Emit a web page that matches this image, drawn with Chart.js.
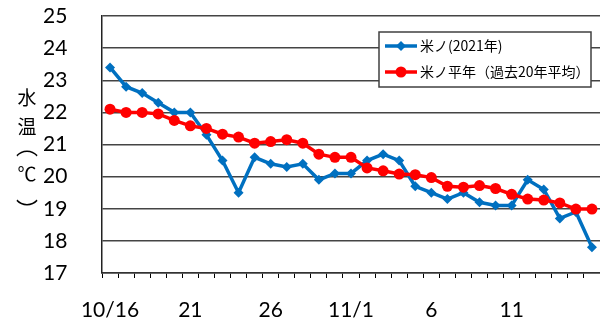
<!DOCTYPE html>
<html>
<head>
<meta charset="utf-8">
<script src="https://cdn.jsdelivr.net/npm/chart.js@4/dist/chart.umd.min.js"></script>
<style>
  html, body { margin: 0; padding: 0; background: #fff; overflow: hidden; }
  #wrap { width: 600px; height: 325px; }
</style>
</head>
<body>
<div id="wrap"><canvas id="c" width="600" height="325"></canvas></div>
<script>
// Observation days (a label is printed every 5th day, the last day unlabelled)
const days = ['10/16','17','18','19','20','21','22','23','24','25','26','27','28','29','30',
              '11/1','2','3','4','5','6','7','8','9','10','11','12','13','14','15','16'];
const labelEvery = 5;

// Water temperature, 2021 (°C)
const temp2021 = [23.4, 22.8, 22.6, 22.3, 22.0, 22.0, 21.3, 20.5, 19.5, 20.6,
                  20.4, 20.3, 20.4, 19.9, 20.1, 20.1, 20.5, 20.7, 20.5, 19.7,
                  19.5, 19.3, 19.5, 19.2, 19.1, 19.1, 19.9, 19.6, 18.7, 18.9, 17.8];

// Normal year: 20-year average (°C)
const tempNormal = [22.1, 22.0, 22.0, 21.95, 21.75, 21.58, 21.5, 21.32, 21.23, 21.04,
                    21.09, 21.15, 21.04, 20.7, 20.6, 20.6, 20.27, 20.18, 20.08, 20.06,
                    19.97, 19.7, 19.67, 19.72, 19.63, 19.45, 19.3, 19.27, 19.18, 18.99, 18.99];

const seriesNames = ['米ノ(2021年)', '米ノ平年（過去20年平均）'];
const yTicks = { min: 17, max: 25, step: 1 };
const yTitleChars = ['水', '温', '︵', '℃', '︶'];

const BLUE = '#0070C0';
const RED = '#FF0000';
const CJK = '"Noto Sans CJK JP", "Noto Sans", sans-serif';
const NUM = 'Lato, "Liberation Sans", sans-serif';

// Vertical axis title, one character per row
const yTitlePlugin = {
  id: 'yTitle',
  afterDraw(chart) {
    const ctx = chart.ctx;
    const rows = [98, 127, 146, 174, 210];
    ctx.save();
    ctx.fillStyle = '#000';
    ctx.textAlign = 'center';
    ctx.textBaseline = 'middle';
    yTitleChars.forEach((ch, i) => {
      ctx.font = (ch === '︵' || ch === '︶' ? '22px ' : '19px ') + CJK;
      ctx.fillText(ch, 27, rows[i]);
    });
    ctx.restore();
  }
};

// Boxed legend inside the plot
const legendPlugin = {
  id: 'boxLegend',
  afterDatasetsDraw(chart) {
    const ctx = chart.ctx;
    const bx = 379, by = 32, bw = 212, bh = 55;
    ctx.save();
    ctx.fillStyle = '#fff';
    ctx.fillRect(bx, by, bw, bh);
    ctx.strokeStyle = '#404040';
    ctx.lineWidth = 1.5;
    ctx.strokeRect(bx, by, bw, bh);
    const rowsY = [46, 72];
    chart.data.datasets.forEach((ds, i) => {
      const y = rowsY[i];
      ctx.strokeStyle = ds.borderColor;
      ctx.lineWidth = 3.5;
      ctx.beginPath();
      ctx.moveTo(385, y);
      ctx.lineTo(417, y);
      ctx.stroke();
      ctx.fillStyle = ds.borderColor;
      ctx.beginPath();
      if (ds.pointStyle === 'rectRot') {
        const r = 5;
        ctx.moveTo(401, y - r); ctx.lineTo(401 + r, y); ctx.lineTo(401, y + r); ctx.lineTo(401 - r, y);
        ctx.closePath();
      } else {
        ctx.arc(401, y, 5.5, 0, Math.PI * 2);
      }
      ctx.fill();
      ctx.fillStyle = '#000';
      ctx.font = '14px ' + CJK;
      ctx.textAlign = 'left';
      ctx.textBaseline = 'middle';
      ctx.fillText(ds.label, 420, y);
    });
    ctx.restore();
  }
};

new Chart(document.getElementById('c'), {
  type: 'line',
  data: {
    labels: days,
    datasets: [
      {
        label: seriesNames[0],
        data: temp2021,
        borderColor: BLUE,
        backgroundColor: BLUE,
        borderWidth: 3.5,
        pointStyle: 'rectRot',
        pointRadius: 5,
        pointBorderWidth: 0,
        pointBackgroundColor: BLUE,
        tension: 0,
        order: 2
      },
      {
        label: seriesNames[1],
        data: tempNormal,
        borderColor: RED,
        backgroundColor: RED,
        borderWidth: 3.5,
        pointStyle: 'circle',
        pointRadius: 5.5,
        pointBorderWidth: 0,
        pointBackgroundColor: RED,
        tension: 0,
        order: 1
      }
    ]
  },
  options: {
    responsive: false,
    animation: false,
    layout: { autoPadding: false, padding: { top: 16, right: 0, bottom: 0, left: 43 } },
    plugins: {
      legend: { display: false },
      tooltip: { enabled: false }
    },
    scales: {
      x: {
        type: 'category',
        offset: true,
        grid: {
          display: true,
          offset: true,
          drawOnChartArea: false,
          drawTicks: true,
          tickLength: 5,
          color: '#000',
          lineWidth: 1
        },
        border: { display: true, color: '#333', width: 1.5 },
        ticks: {
          autoSkip: false,
          maxRotation: 0,
          padding: 20,
          color: '#000',
          font: { family: NUM, size: 21 },
          callback: (v, i) => (i % labelEvery === 0 && i < days.length - 1 ? days[i] : '')
        },
        afterFit(s) {
          s.height = 52;
          // the plot runs right up to the canvas edge
          s.paddingLeft = 0;
          s.paddingRight = 0;
        }
      },
      y: {
        min: yTicks.min,
        max: yTicks.max,
        ticks: {
          stepSize: yTicks.step,
          padding: 0,
          crossAlign: 'far',
          color: '#000',
          font: { family: NUM, size: 21 }
        },
        grid: { color: '#444', lineWidth: 1.5, drawTicks: false },
        border: { display: true, color: '#222', width: 1.5 },
        afterFit(s) { s.width = 59; }
      }
    }
  },
  plugins: [yTitlePlugin, legendPlugin]
});
</script>
</body>
</html>
